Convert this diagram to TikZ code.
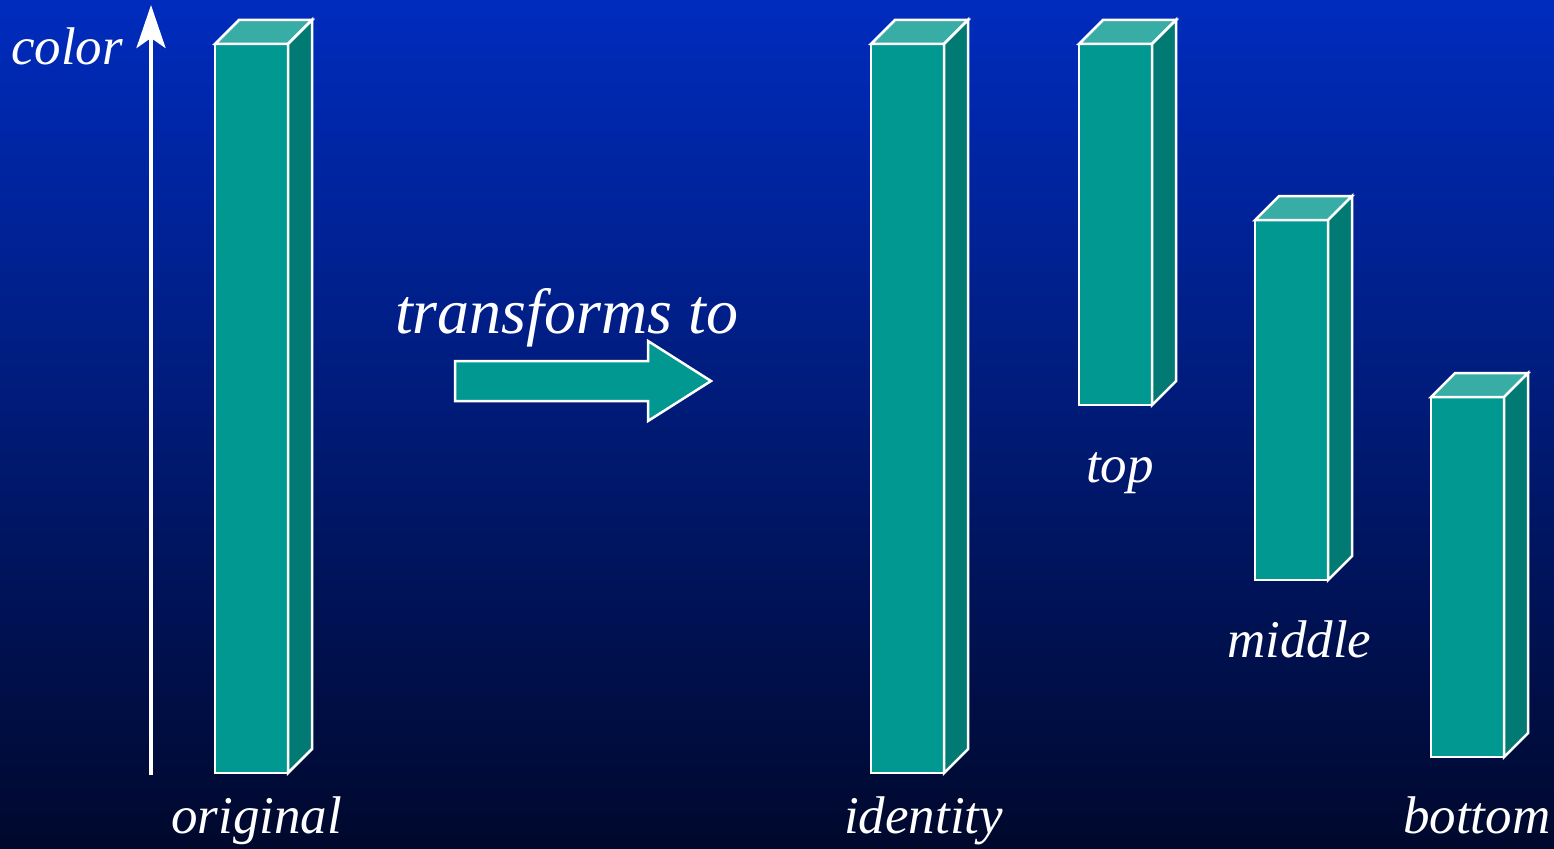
\documentclass[tikz,border=0pt]{standalone}
\usepackage{fontspec}
\setmainfont{Liberation Serif}
\usetikzlibrary{arrows.meta}
\definecolor{bgtop}{RGB}{0,44,190}
\definecolor{bgbot}{RGB}{0,8,44}
\definecolor{frontc}{RGB}{0,152,144}
\definecolor{topc}{RGB}{56,173,166}
\definecolor{sidec}{RGB}{0,122,115}
\newcommand\drawbar[4]{%
  \pgfmathsetmacro\bh{#4-#3}%
  \pgfmathsetmacro\bx{#2+36.5}%
  \pgfmathsetmacro\by{(#3+#4)/2}%
  \node[frontface, minimum height=\bh pt] (#1) at (\bx,\by) {};
  \draw[topface] (#1.north west) -- ++(24,-24) -- ++(73,0) -- (#1.north east) -- cycle;
  \draw[sideface] (#1.north east) -- ++(24,-24) -- ++(0,\bh) -- (#1.south east) -- cycle;
}
\begin{document}
\begin{tikzpicture}[x=1pt,y=-1pt,
  frontface/.style={draw=white, fill=frontc, line width=2.5pt, minimum width=73pt, inner sep=0pt, outer sep=0pt, line join=miter},
  topface/.style={draw=white, fill=topc, line width=2.5pt, line join=miter},
  sideface/.style={draw=white, fill=sidec, line width=2.5pt, line join=miter},
  lbl/.style={text=white, inner sep=0pt, anchor=base west, font=\fontsize{53}{60}\selectfont\itshape},
  biglbl/.style={lbl, font=\fontsize{64}{72}\selectfont\itshape},
  axis/.style={draw=white, line width=4pt, -{Stealth[length=43pt,width=29pt,inset=10pt]}},
  blockarrow/.style={draw=white, fill=frontc, line width=2.5pt, line join=miter}]
\shade[top color=bgtop, bottom color=bgbot] (0,0) rectangle (1554,848);
\useasboundingbox (0,0) rectangle (1554,848);
% colour axis
\coordinate (axS) at (151,775);
\coordinate (axE) at (151,5);
\draw[axis] (axS) -- (axE);
\node[lbl] (lcolor) at (11,65) {color};
% bars
\drawbar{original}{215}{44}{773}
\drawbar{identity}{871}{44}{773}
\drawbar{topbar}{1079}{44}{405}
\drawbar{middlebar}{1255}{220}{580}
\drawbar{bottombar}{1431}{397}{757}
% block arrow
\draw[blockarrow] (455,361) -- (648,361) -- (648,341) -- (711,381) -- (648,421) -- (648,401) -- (455,401) -- cycle;
\node[biglbl] (ltrans) at (395,333) {transforms to};
% labels
\node[lbl] (loriginal) at (171,833) {original};
\node[lbl] (lidentity) at (844,833) {identity};
\node[lbl] (ltop) at (1086,482) {top};
\node[lbl] (lmiddle) at (1227,657) {middle};
\node[lbl] (lbottom) at (1403,833) {bottom};
\end{tikzpicture}
\end{document}
